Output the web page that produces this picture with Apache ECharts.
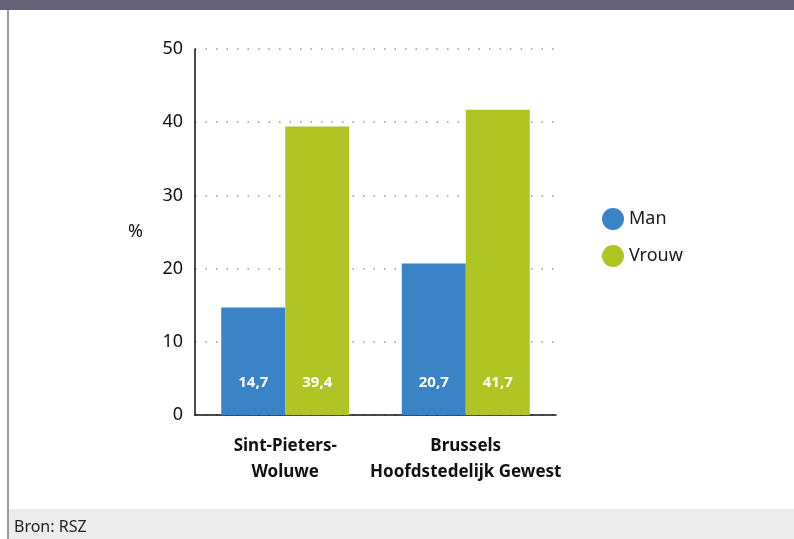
<!DOCTYPE html>
<html>
<head>
<meta charset="utf-8">
<script src="https://cdn.jsdelivr.net/npm/echarts@6/dist/echarts.min.js"></script>
<style>
  html, body { margin: 0; padding: 0; background: #fff; }
  #chart { width: 794px; height: 539px; }
</style>
</head>
<body>
<div id="chart"></div>
<script>
// data
const categories = ['Sint-Pieters-\nWoluwe', 'Brussels\nHoofdstedelijk Gewest']
const seriesNames = ['Man', 'Vrouw']
const manValues = [14.7, 20.7]
const vrouwValues = [39.4, 41.7]
const yTicks = { min: 0, max: 50, interval: 10 }

const font = 'Noto Sans'
let myChart = echarts.init(document.querySelector('#chart'))

// label met komma als decimaalteken
const commaLabel = p => String(p.value).replace('.', ',')

let option = {
  backgroundColor: '#fff',
  textStyle: { fontFamily: font },
  animation: false,
  grid: {
    left: 195,
    right: 238,
    top: 49,
    bottom: 124
  },
  legend: {
    orient: 'vertical',
    left: 597,
    top: 203,
    icon: 'circle',
    itemWidth: 22,
    itemHeight: 22,
    itemGap: 15,
    textStyle: { fontSize: 18, color: '#1a1a1a', fontFamily: font },
    data: seriesNames
  },
  xAxis: {
    type: 'category',
    data: categories,
    axisLine: { lineStyle: { color: '#111', width: 1.5 } },
    axisTick: { show: false },
    axisLabel: {
      interval: 0,
      fontSize: 17,
      fontWeight: 'bold',
      color: '#111',
      lineHeight: 26,
      margin: 18
    }
  },
  yAxis: {
    type: 'value',
    min: yTicks.min,
    max: yTicks.max,
    interval: yTicks.interval,
    name: '%',
    nameLocation: 'middle',
    nameRotate: 0,
    nameGap: 52,
    nameTextStyle: { fontSize: 18, color: '#111' },
    axisLine: { show: true, lineStyle: { color: '#111', width: 1.5 } },
    axisTick: { show: false },
    axisLabel: { fontSize: 18, color: '#111', margin: 12 },
    splitLine: {
      lineStyle: { color: '#999', type: [1.5, 9], width: 1.5 }
    }
  },
  series: [
    {
      name: seriesNames[0],
      type: 'bar',
      data: manValues,
      barWidth: 64,
      barGap: '0%',
      itemStyle: { color: '#3a83c7' },
      label: {
        show: true,
        position: 'insideBottom',
        distance: 25,
        color: '#fff',
        fontWeight: 'bold',
        fontSize: 15,
        formatter: commaLabel
      }
    },
    {
      name: seriesNames[1],
      type: 'bar',
      data: vrouwValues,
      barWidth: 64,
      barGap: '0%',
      itemStyle: { color: '#b0c424' },
      label: {
        show: true,
        position: 'insideBottom',
        distance: 25,
        color: '#fff',
        fontWeight: 'bold',
        fontSize: 15,
        formatter: commaLabel
      }
    }
  ],
  graphic: [
    // kopbalk
    { type: 'rect', left: 0, top: 0, shape: { width: 794, height: 10 }, style: { fill: '#65627a' } },
    // linkerrand
    { type: 'rect', left: 7, top: 10, shape: { width: 2, height: 529 }, style: { fill: '#9a98a6' } },
    // voetbalk
    { type: 'rect', left: 9, top: 509, shape: { width: 785, height: 30 }, style: { fill: '#ececec' } },
    {
      type: 'text', left: 14, top: 519,
      style: { text: 'Bron: RSZ', fontSize: 16, fill: '#222', fontFamily: font }
    }
  ]
}
myChart.setOption(option)
</script>
</body>
</html>
